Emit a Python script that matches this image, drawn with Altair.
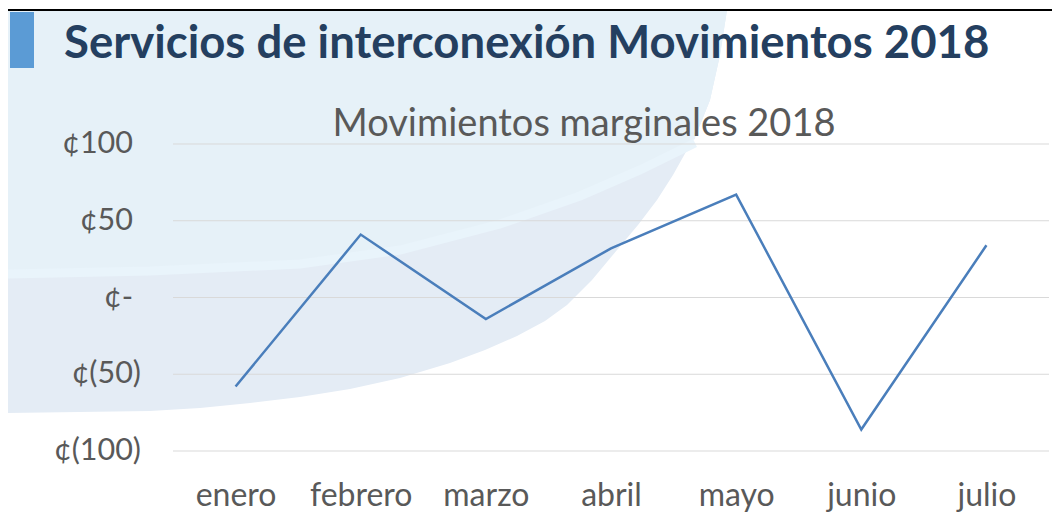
import altair as alt
import pandas as pd

# ---- data ----
months = ["enero", "febrero", "marzo", "abril", "mayo", "junio", "julio"]
values = [-58, 41, -14, 32, 67, -86, 34]
y_ticks = [-100, -50, 0, 50, 100]
y_labels = ["¢(100)", "¢(50)", "¢-", "¢50", "¢100"]

title_text = "Servicios de interconexión Movimientos 2018"
subtitle_text = "Movimientos marginales 2018"

df = pd.DataFrame({"mes": months, "valor": values})
tick_df = pd.DataFrame({"valor": y_ticks, "label": y_labels})
one = pd.DataFrame({"k": [0]})

W, H = 876, 307
PAD_L, PAD_T = 165, 136
OX, OY = 173, 144  # page position of the plot origin
FONT = "Lato"
LABEL_COLOR = "#595959"


def to_path(pts, close=True):
    s = "M " + " L ".join(f"{x - OX} {y - OY}" for x, y in pts)
    return s + (" Z" if close else "")


# decorative slide background (page-pixel outline of the large pale disc)
edge = [(727, 10), (720, 55), (710, 100), (700, 125), (687, 150), (673, 175), (657, 200),
        (638, 225), (617, 250), (592, 280), (567, 305), (545, 321), (517, 336), (485, 350),
        (450, 363), (400, 378), (350, 389), (300, 397), (250, 403), (200, 408), (150, 411),
        (7, 413)]
main_pts = [(7, 10)] + edge
stripe_pts = [(7, 274), (150, 271), (300, 264), (400, 250), (500, 224), (580, 196),
              (640, 170), (695, 143)]
upper_pts = [(7, 10), (727, 10), (720, 55), (710, 100), (700, 125), (695, 138)] + \
            [(x, y - 4) for x, y in reversed(stripe_pts)]

bg_main = alt.Chart(one).mark_point(
    shape=to_path(main_pts), size=4, filled=True, color="#e4ecf5", opacity=1, strokeWidth=0
).encode(x=alt.value(0), y=alt.value(0))
bg_upper = alt.Chart(one).mark_point(
    shape=to_path(upper_pts), size=4, filled=True, color="#e6f1f8", opacity=1, strokeWidth=0
).encode(x=alt.value(0), y=alt.value(0))
bg_stripe = alt.Chart(one).mark_point(
    shape=to_path(stripe_pts, close=False), size=4, filled=False, color="#e9f4fb",
    opacity=1, strokeWidth=9
).encode(x=alt.value(0), y=alt.value(0))

yscale = alt.Scale(domain=[-100, 100], nice=False, zero=False)

grid = alt.Chart(tick_df).mark_rule(color="#d9d9d9", strokeWidth=1).encode(
    y=alt.Y("valor:Q", scale=yscale, axis=None))

# y tick labels (accounting style: ")" hangs past the right edge of the others)
ylab_pos = alt.Chart(tick_df).transform_filter("datum.valor >= 0").mark_text(
    align="right", baseline="middle", font=FONT, fontSize=30.5, color=LABEL_COLOR, dx=-40
).encode(x=alt.value(0), y=alt.Y("valor:Q", scale=yscale, axis=None), text="label:N")
ylab_neg = alt.Chart(tick_df).transform_filter("datum.valor < 0").mark_text(
    align="right", baseline="middle", font=FONT, fontSize=30.5, color=LABEL_COLOR, dx=-32
).encode(x=alt.value(0), y=alt.Y("valor:Q", scale=yscale, axis=None), text="label:N")

line = alt.Chart(df).mark_line(color="#4a7ebb", strokeWidth=2.5).encode(
    x=alt.X("mes:N", sort=months,
            axis=alt.Axis(title=None, labelAngle=0, domain=False, ticks=False, grid=False,
                          labelFont=FONT, labelFontSize=32, labelColor=LABEL_COLOR,
                          labelPadding=29, zindex=1)),
    y=alt.Y("valor:Q", scale=yscale, axis=None),
)

title = alt.Chart(one).mark_text(
    text=title_text, align="left", baseline="alphabetic", font=FONT,
    fontWeight="bold", fontSize=45.5, color="#243f60"
).encode(x=alt.value(64 - OX), y=alt.value(58 - OY))

subtitle = alt.Chart(one).mark_text(
    text=subtitle_text, align="center", baseline="alphabetic", font=FONT,
    fontSize=38, color=LABEL_COLOR
).encode(x=alt.value(584 - OX), y=alt.value(136 - OY))

blue_rect = alt.Chart(one).mark_rect(color="#5b9bd5").encode(
    x=alt.value(10 - OX), x2=alt.value(34 - OX), y=alt.value(12 - OY), y2=alt.value(68 - OY))

border_left = alt.Chart(one).mark_rule(color="black", strokeWidth=2).encode(
    x=alt.value(7 - OX), y=alt.value(9 - OY), y2=alt.value(400))
border_top = alt.Chart(one).mark_rule(color="black", strokeWidth=2).encode(
    x=alt.value(6 - OX), x2=alt.value(900), y=alt.value(10 - OY))

chart = alt.layer(bg_main, bg_upper, bg_stripe, grid, line, ylab_pos, ylab_neg, title,
                  subtitle, blue_rect, border_left, border_top).properties(
    width=W, height=H,
    autosize=alt.AutoSizeParams(type="none"),
    padding={"left": PAD_L, "top": PAD_T, "right": 3, "bottom": 64},
    background="white",
).configure_view(stroke=None)

chart.save("out.html", embed_options={"renderer": "svg", "actions": False})
